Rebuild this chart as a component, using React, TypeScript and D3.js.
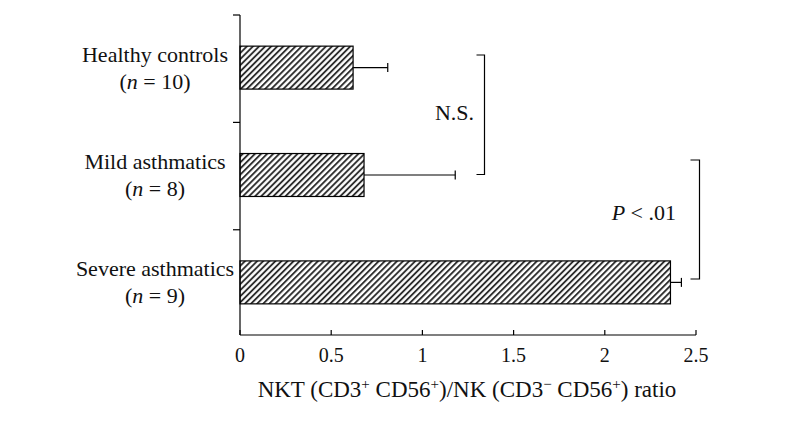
import React from "react";
import * as d3 from "d3";

const groups = ["Healthy controls", "Mild asthmatics", "Severe asthmatics"];
const groupN = ["10", "8", "9"];
const means = [0.62, 0.68, 2.36];
const errors = [0.19, 0.5, 0.06];
const xTicks = [0, 0.5, 1, 1.5, 2, 2.5];
const xTickLabels = ["0", "0.5", "1", "1.5", "2", "2.5"];

const W = 794;
const H = 433;
const FONT = "Liberation Serif";
const FS = 22;

export default function App() {
  const x = d3.scaleLinear().domain([0, 2.5]).range([240, 696]);
  const y = d3.scaleBand<string>().domain(groups).range([15, 335]).paddingInner(0.6).paddingOuter(0.29);
  const bw = y.bandwidth();
  const band = y.step();
  const axisY = 335;
  const ts = { fontFamily: FONT };

  const centerOf = (g: string) => (y(g) as number) + bw / 2;

  return (
    <svg width={W} height={H} style={{ position: "absolute", left: 0, top: 0, background: "#fff" }}>
      <defs>
        <pattern id="hatch" patternUnits="userSpaceOnUse" width={4.3} height={10} patternTransform="rotate(45)">
          <rect width={4.3} height={10} fill="#fff" />
          <line x1={1} y1={-1} x2={1} y2={11} stroke="#222" strokeWidth={1.8} />
        </pattern>
      </defs>
      <rect width={W} height={H} fill="#fff" />

      {/* bars */}
      {groups.map((g, i) => {
        const cy = centerOf(g);
        const xe = x(means[i] + errors[i]);
        return (
          <g key={g}>
            <rect x={x(0)} y={y(g)} width={x(means[i]) - x(0)} height={bw} fill="url(#hatch)" stroke="#000" strokeWidth={1.2} />
            <line x1={x(means[i])} x2={xe} y1={cy} y2={cy} stroke="#000" strokeWidth={1.2} />
            <line x1={xe} x2={xe} y1={cy - 4.5} y2={cy + 4.5} stroke="#000" strokeWidth={1.2} />
          </g>
        );
      })}

      {/* y axis */}
      <line x1={x(0)} x2={x(0)} y1={15} y2={axisY} stroke="#000" strokeWidth={1.2} />
      {[0, 1, 2].map((k) => {
        const yy = 15 + k * band;
        return <line key={k} x1={x(0) - 7} x2={x(0)} y1={yy} y2={yy} stroke="#000" strokeWidth={1.2} />;
      })}

      {/* x axis */}
      <line x1={x(0)} x2={x(2.5)} y1={axisY} y2={axisY} stroke="#000" strokeWidth={1.2} />
      {xTicks.map((t, i) => (
        <g key={t}>
          <line x1={x(t)} x2={x(t)} y1={axisY - 5} y2={axisY} stroke="#000" strokeWidth={1.2} />
          <text x={x(t)} y={axisY + 27} textAnchor="middle" fontSize={20} fill="#111" style={ts}>
            {xTickLabels[i]}
          </text>
        </g>
      ))}
      <text x={467} y={397} textAnchor="middle" fontSize={23} fill="#111" style={ts}>
        NKT (CD3<tspan dy={-8} fontSize={15}>+</tspan>
        <tspan dy={8}> CD56</tspan>
        <tspan dy={-8} fontSize={15}>+</tspan>
        <tspan dy={8}>)/NK (CD3</tspan>
        <tspan dy={-8} fontSize={15}>−</tspan>
        <tspan dy={8}> CD56</tspan>
        <tspan dy={-8} fontSize={15}>+</tspan>
        <tspan dy={8}>) ratio</tspan>
      </text>

      {/* category labels */}
      {groups.map((g, i) => {
        const cy = centerOf(g);
        return (
          <g key={g + "l"} fill="#111" fontSize={FS}>
            <text x={155} y={cy - 6} textAnchor="middle" style={ts}>{g}</text>
            <text x={155} y={cy + 21} textAnchor="middle" style={ts}>
              (<tspan fontStyle="italic">n</tspan> = {groupN[i]})
            </text>
          </g>
        );
      })}

      {/* N.S. bracket */}
      <path d={`M476.5,55 H484.5 V174.5 H476.5`} fill="none" stroke="#000" strokeWidth={1.2} />
      <text x={474} y={120} textAnchor="end" fontSize={FS} fill="#111" style={ts}>N.S.</text>

      {/* P < .01 bracket */}
      <path d={`M690.5,160 H699.5 V279 H690.5`} fill="none" stroke="#000" strokeWidth={1.2} />
      <text x={676} y={220} textAnchor="end" fontSize={FS} fill="#111" style={ts}>
        <tspan fontStyle="italic">P</tspan> &lt; .01
      </text>
    </svg>
  );
}
